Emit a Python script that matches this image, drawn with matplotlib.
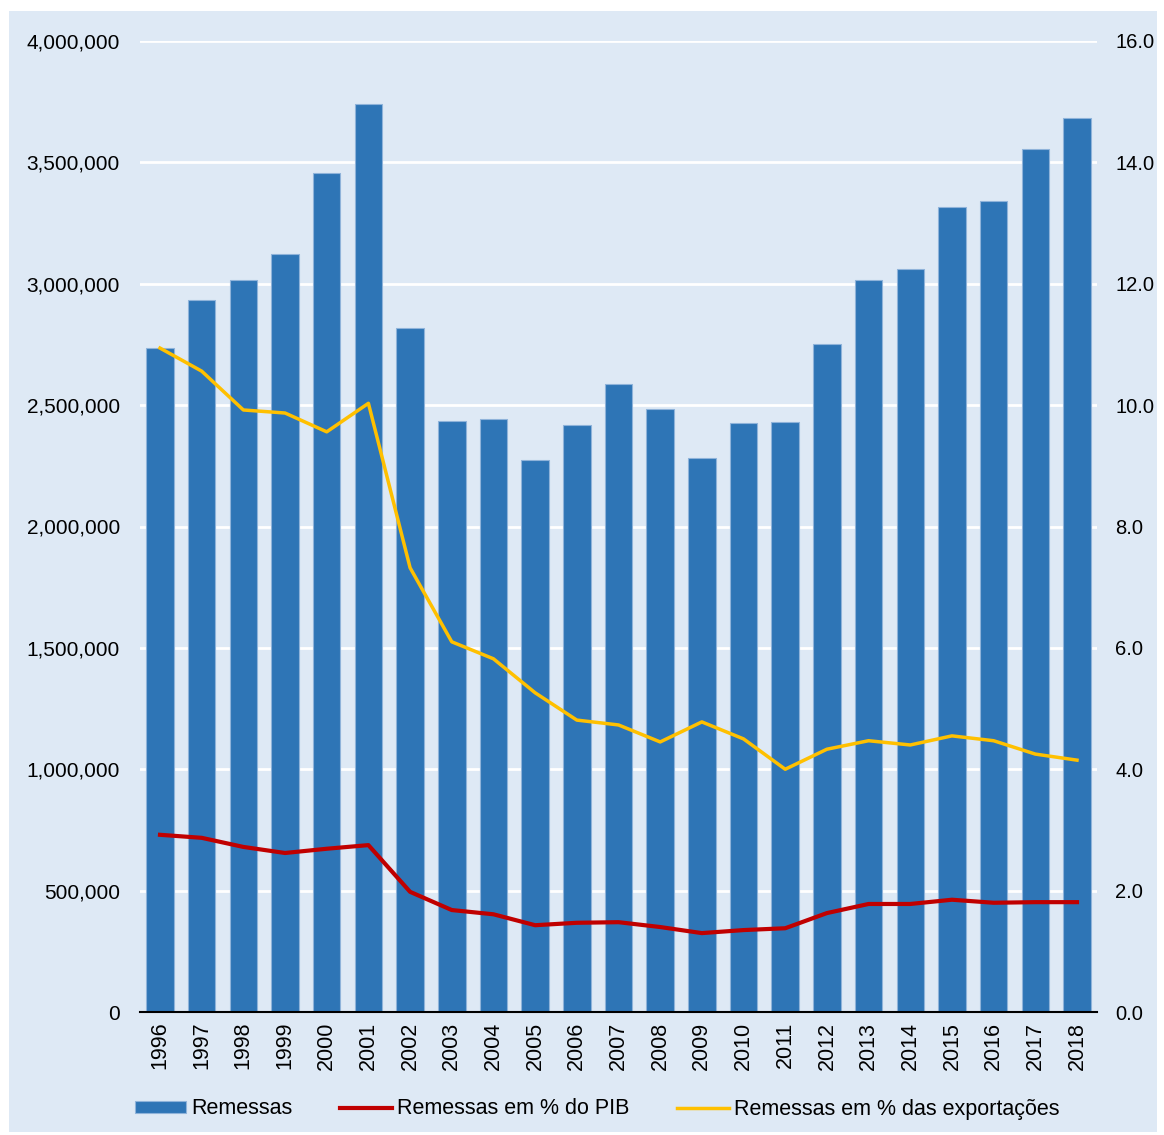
import matplotlib
matplotlib.use("Agg")
import matplotlib.pyplot as plt
from matplotlib.patches import Rectangle
from matplotlib.ticker import FuncFormatter, FixedLocator

plt.rcParams['font.family'] = ['Liberation Sans', 'DejaVu Sans']

years = [str(y) for y in range(1996, 2019)]
remessas = [2735000, 2933000, 3015000, 3123000, 3456000, 3740000, 2818000, 2435000,
            2443000, 2274000, 2418000, 2587000, 2484000, 2282000, 2426000, 2430000,
            2752000, 3015000, 3061000, 3316000, 3341000, 3555000, 3683000]
pct_pib = [2.92, 2.87, 2.72, 2.62, 2.69, 2.75, 1.98, 1.68, 1.61, 1.43, 1.47, 1.48,
           1.40, 1.30, 1.35, 1.38, 1.63, 1.78, 1.78, 1.85, 1.80, 1.81, 1.81]
pct_exp = [10.94, 10.56, 9.92, 9.87, 9.56, 10.03, 7.32, 6.10, 5.82, 5.26, 4.81, 4.73,
           4.45, 4.78, 4.50, 4.00, 4.33, 4.47, 4.40, 4.55, 4.47, 4.25, 4.15]

bg = '#DEE9F5'
bar_c = '#2E75B6'
red_c = '#C00000'
yel_c = '#FFC000'
fs = 15.5

W, H = 1164, 1135
fig = plt.figure(figsize=(W/100, H/100), dpi=100, facecolor='white')
fig.patches.append(Rectangle((9/W, 1 - 1132/H), (1157-9)/W, (1132-11)/H,
                             transform=fig.transFigure, facecolor=bg, edgecolor='none', zorder=-10))

ax = fig.add_axes([140/W, 1 - 1012/H, (1097-140)/W, (1012-41)/H])
ax.set_facecolor('none')
x = list(range(len(years)))
ax.bar(x, remessas, width=0.66, color=bar_c, edgecolor='#8FB3DA', linewidth=0.8, zorder=2,
       label='Remessas')
ax.set_ylim(0, 4000000)
ax.set_xlim(-0.48, len(years) - 1 + 0.48)
ax.yaxis.set_major_locator(FixedLocator([i*500000 for i in range(9)]))
ax.yaxis.set_major_formatter(FuncFormatter(lambda v, p: f"{int(v):,}"))
ax.grid(axis='y', color='white', linewidth=2, zorder=0)
ax.set_axisbelow(True)
for s in ['top', 'right', 'left']:
    ax.spines[s].set_visible(False)
ax.spines['bottom'].set_color('black')
ax.spines['bottom'].set_linewidth(1.5)
ax.spines['bottom'].set_zorder(5)
ax.set_xticks(x)
ax.set_xticklabels(years, rotation=90, fontsize=fs)
ax.tick_params(axis='x', length=0, pad=7)
ax.tick_params(axis='y', length=0, pad=14.5, labelsize=fs - 0.5)

ax2 = ax.twinx()
ax2.plot(x, pct_pib, color=red_c, linewidth=3, zorder=3, label='Remessas em % do PIB')
ax2.plot(x, pct_exp, color=yel_c, linewidth=2.5, zorder=3, label='Remessas em % das exportações')
ax2.set_ylim(0, 16)
ax2.yaxis.set_major_locator(FixedLocator([i*2 for i in range(9)]))
ax2.yaxis.set_major_formatter(FuncFormatter(lambda v, p: f"{v:.1f}"))
for s in ['top', 'right', 'left', 'bottom']:
    ax2.spines[s].set_visible(False)
ax2.tick_params(axis='y', length=0, pad=13, labelsize=fs - 1)

h1, l1 = ax.get_legend_handles_labels()
h2, l2 = ax2.get_legend_handles_labels()
fig.legend(h1 + h2, l1 + l2, loc='center', bbox_to_anchor=(597/W, 1 - 1109/H), ncol=3,
           frameon=False, fontsize=fs, handlelength=2.4, handleheight=0.5, columnspacing=2.2,
           handletextpad=0.25)

fig.savefig('out.png', dpi=100, facecolor='white')
